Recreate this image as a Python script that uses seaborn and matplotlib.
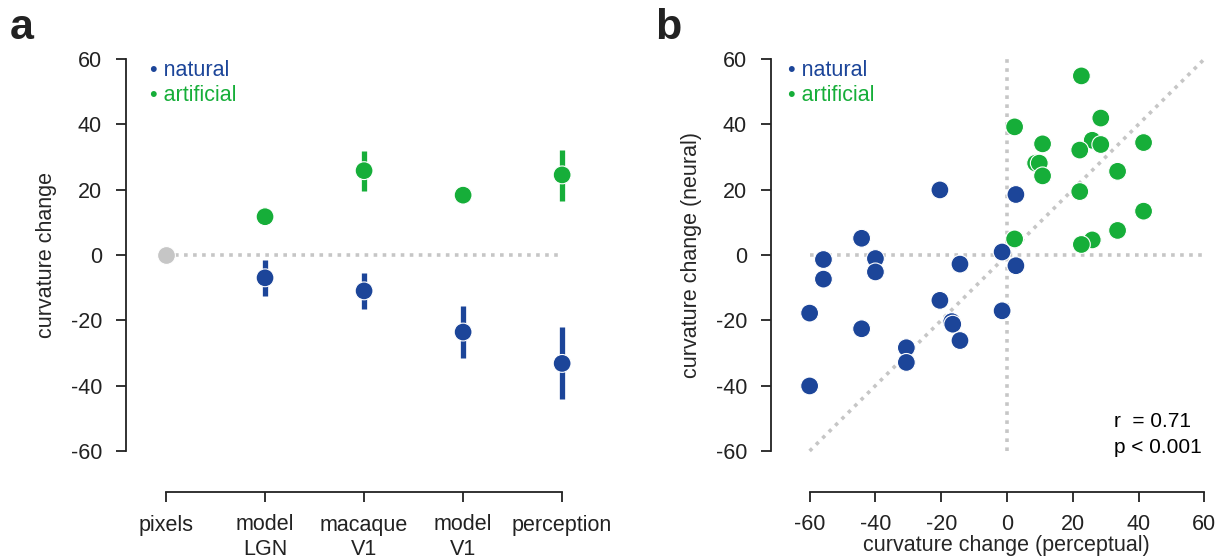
import numpy as np
import pandas as pd
import matplotlib
matplotlib.use("Agg")
import matplotlib.pyplot as plt
import seaborn as sns

# ---- panel a: mean curvature change per processing stage ----
stages = ["pixels", "model\nLGN", "macaque\nV1", "model\nV1", "perception"]
natural_mean = [-7.0, -11.0, -23.6, -33.2]
natural_lo = [-12.6, -16.5, -31.6, -44.2]
natural_hi = [-1.5, -5.6, -15.6, -22.0]
artificial_mean = [11.7, 25.8, 18.3, 24.5]
artificial_lo = [11.7, 19.6, 18.3, 16.5]
artificial_hi = [11.7, 31.9, 18.3, 32.1]
pixels_value = 0.0

# ---- panel b: per-sequence curvature change, perceptual vs neural ----
natural_perc = [-20.4, 2.7, -44.2, -55.8, -55.8, -40.0, -40.0, -1.5, 2.7, -14.3,
                -20.4, -1.5, -60.0, -44.2, -16.8, -16.5, -14.3, -30.6, -30.6, -60.0]
natural_neur = [19.9, 18.5, 5.1, -1.4, -7.4, -1.1, -5.2, 0.9, -3.3, -2.8,
                -13.9, -17.1, -17.8, -22.6, -20.4, -21.2, -26.2, -28.4, -32.9, -40.1]
artificial_perc = [22.6, 28.5, 2.3, 10.8, 25.9, 28.5, 22.1, 41.5, 8.7, 9.8,
                   10.8, 33.6, 22.1, 41.5, 33.6, 25.9, 22.6, 2.3]
artificial_neur = [54.8, 41.9, 39.2, 34.0, 35.1, 33.8, 32.1, 34.4, 28.1, 28.1,
                   24.2, 25.6, 19.4, 13.4, 7.5, 4.6, 3.2, 4.9]
r_value = 0.71
p_text = "p < 0.001"

BLUE = "#1c4599"
GREEN = "#16ae39"
GRAY = "#c6c6c6"
INK = "#222222"
FS = 15.5

sns.set_theme(style="ticks")
plt.rcParams["font.family"] = ["Liberation Sans", "DejaVu Sans"]
plt.rcParams["axes.unicode_minus"] = False
plt.rcParams["axes.linewidth"] = 1.3
plt.rcParams["axes.edgecolor"] = INK
plt.rcParams["text.color"] = INK
plt.rcParams["xtick.color"] = INK
plt.rcParams["ytick.color"] = INK

W, H = 1220, 560
fig = plt.figure(figsize=(W / 100, H / 100), dpi=100)
ax_a = fig.add_axes([136 / W, 78 / H, 439 / W, 427 / H])
ax_b = fig.add_axes([781 / W, 78 / H, 431 / W, 427 / H])

dot = (0, (1, 1.5))
marker_s = 165

# ---------------- panel a ----------------
pos = np.arange(1, len(stages) + 1)
df_a = pd.DataFrame({
    "stage": np.concatenate([pos[1:], pos[1:]]),
    "mean": natural_mean + artificial_mean,
    "lo": natural_lo + artificial_lo,
    "hi": natural_hi + artificial_hi,
    "condition": ["natural"] * 4 + ["artificial"] * 4,
})

ax_a.plot([pos[0], pos[-1]], [0, 0], color=GRAY, lw=2.6, linestyle=dot, zorder=1)
ax_a.vlines(df_a["stage"], df_a["lo"], df_a["hi"],
            colors=[BLUE if c == "natural" else GREEN for c in df_a["condition"]],
            lw=3.8, zorder=2)
sns.scatterplot(data=df_a, x="stage", y="mean", hue="condition",
                palette={"natural": BLUE, "artificial": GREEN},
                s=marker_s, edgecolor="white", linewidth=0.8, legend=False,
                ax=ax_a, zorder=3)
sns.scatterplot(x=[pos[0]], y=[pixels_value], color=GRAY, s=marker_s,
                edgecolor="white", linewidth=0.8, ax=ax_a, zorder=3)

ax_a.set_xlim(0.697, 5.13)
ax_a.set_ylim(-69.5, 61.2)
ax_a.set_xticks(pos)
ax_a.set_xticklabels(stages)
ax_a.set_yticks([-60, -40, -20, 0, 20, 40, 60])
ax_a.set_xlabel("")
ax_a.set_ylabel("curvature change", fontsize=FS)
ax_a.yaxis.set_label_coords(-0.18, 0.532)
ax_a.spines["left"].set_bounds(-60, 60)
ax_a.spines["bottom"].set_bounds(1, 5)

ax_a.text(0.84, 56.6, "• natural", color=BLUE, fontsize=FS, va="center", ha="left")
ax_a.text(0.84, 48.7, "• artificial", color=GREEN, fontsize=FS, va="center", ha="left")

# ---------------- panel b ----------------
df_b = pd.DataFrame({
    "perceptual": natural_perc + artificial_perc,
    "neural": natural_neur + artificial_neur,
    "condition": ["natural"] * len(natural_perc) + ["artificial"] * len(artificial_perc),
})

ax_b.plot([-60, 60], [0, 0], color=GRAY, lw=2.6, linestyle=dot, zorder=1)
ax_b.plot([0, 0], [-60, 60], color=GRAY, lw=2.6, linestyle=dot, zorder=1)
ax_b.plot([-60, 60], [-60, 60], color=GRAY, lw=2.6, linestyle=dot, zorder=1)
sns.scatterplot(data=df_b, x="perceptual", y="neural", hue="condition",
                palette={"natural": BLUE, "artificial": GREEN},
                s=marker_s, edgecolor="white", linewidth=0.8, legend=False,
                ax=ax_b, zorder=3)

ax_b.set_xlim(-68.7, 62.3)
ax_b.set_ylim(-69.5, 61.2)
ticks = [-60, -40, -20, 0, 20, 40, 60]
ax_b.set_xticks(ticks)
ax_b.set_yticks(ticks)
ax_b.set_xlabel("curvature change (perceptual)", fontsize=FS)
ax_b.set_ylabel("curvature change (neural)", fontsize=FS)
ax_b.xaxis.set_label_coords(0.524, -0.125)
ax_b.yaxis.set_label_coords(-0.183, 0.532)
ax_b.spines["left"].set_bounds(-60, 60)
ax_b.spines["bottom"].set_bounds(-60, 60)

ax_b.text(-66.5, 56.6, "• natural", color=BLUE, fontsize=FS, va="center", ha="left")
ax_b.text(-66.5, 48.7, "• artificial", color=GREEN, fontsize=FS, va="center", ha="left")
ax_b.text(32.5, -51.0, f"r  = {r_value:.2f}", color="black", fontsize=FS - 0.5,
          va="center", ha="left")
ax_b.text(32.5, -59.0, p_text, color="black", fontsize=FS - 0.5,
          va="center", ha="left")

for ax in (ax_a, ax_b):
    for side in ("top", "right"):
        ax.spines[side].set_visible(False)
    ax.spines["left"].set_position(("outward", 7.2))
    ax.spines["bottom"].set_position(("outward", 7.2))
    ax.tick_params(axis="both", length=7.2, width=1.3, labelsize=FS)
    ax.tick_params(axis="y", pad=10)
    ax.tick_params(axis="x", pad=9)
    ax.set_facecolor("white")

fig.text(10 / W, 1 - 8 / H, "a", fontsize=31, fontweight="bold", va="top", ha="left")
fig.text(655 / W, 1 - 8 / H, "b", fontsize=31, fontweight="bold", va="top", ha="left")

fig.savefig("out.png", dpi=100, facecolor="white")
